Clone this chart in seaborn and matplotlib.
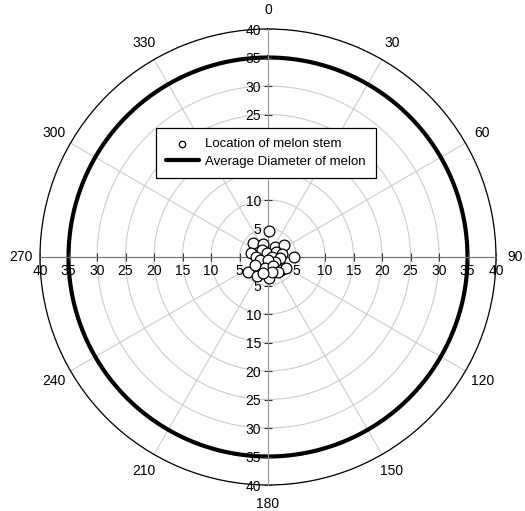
import numpy as np
import matplotlib
matplotlib.use("Agg")
import matplotlib.pyplot as plt
import seaborn as sns

# Stem locations: angle (deg, clockwise from top) and distance from centre
stem_theta = [1.5, 313, 340, 34, 53, 284, 318, 340, 56, 77.5, 90, 272, 85, 96,
              216.5, 123.7, 249, 173.5, 225, 195, 152.6, 135, 122, 233, 209,
              176.4, 145, 166, 196, 238.5]
stem_r = [4.50, 3.52, 2.42, 2.19, 3.59, 3.08, 1.66, 0.68, 1.69, 2.46, 4.62,
          2.11, 0.65, 2.12, 1.38, 1.48, 1.50, 0.53, 2.81, 2.06, 1.78, 3.22,
          3.73, 4.47, 3.82, 3.64, 3.15, 2.65, 2.98, 2.68]
avg_diameter = 35

angle_ticks = [0, 30, 60, 90, 120, 150, 180, 210, 240, 270, 300, 330]
radial_ticks = [5, 10, 15, 20, 25, 30, 35, 40]

sns.set_style("white")
plt.rcParams['font.family'] = ['Liberation Sans', 'DejaVu Sans']
plt.rcParams['text.color'] = 'black'
plt.rcParams['xtick.color'] = 'black'
plt.rcParams['ytick.color'] = 'black'

fig = plt.figure(figsize=(5.25, 5.11), dpi=100)
rect = [40 / 525, 26 / 511, 456 / 525, 456 / 511]

# Polar axes
ax = fig.add_axes(rect, projection='polar')
ax.set_theta_zero_location('N')
ax.set_theta_direction(-1)
ax.set_facecolor('none')
ax.set_ylim(0, 40)
ax.set_yticks(radial_ticks)
ax.set_yticklabels([])
ax.set_xticks(np.deg2rad(angle_ticks))
ax.set_xticklabels([str(a) for a in angle_ticks], fontsize=10)
ax.tick_params(axis='x', pad=4, direction='inout', length=6, width=0.8)
ax.grid(True, color='0.8', linewidth=0.8)
ax.spines['polar'].set_color('black')
ax.spines['polar'].set_linewidth(0.9)

theta_circle = np.deg2rad(np.arange(0, 361))
ax.plot(theta_circle, np.full(theta_circle.shape, avg_diameter), color='black',
        linewidth=3, label='Average Diameter of melon', zorder=4)

# Cartesian overlay for the radial scales on the cross axes
cx = fig.add_axes(rect)
cx.set_facecolor('none')
cx.set_xlim(-40, 40)
cx.set_ylim(-40, 40)
for s in ['top', 'right']:
    cx.spines[s].set_visible(False)
cx.spines['left'].set_position('zero')
cx.spines['bottom'].set_position('zero')
cx.spines['left'].set_color('0.6')
cx.spines['bottom'].set_color('0.45')
cx.spines['left'].set_linewidth(0.8)
cx.spines['bottom'].set_linewidth(0.8)
ticks = [-t for t in radial_ticks[::-1]] + radial_ticks
cx.set_xticks(ticks)
cx.set_yticks(ticks)
cx.set_xticklabels([str(abs(t)) for t in ticks], fontsize=10)
# labels at 15 and 20 on the upper axis sit under the legend box
ylabels = ['' if t in (15, 20) else str(abs(t)) for t in ticks]
cx.set_yticklabels(ylabels, fontsize=10)
cx.tick_params(direction='inout', length=6, width=0.8, color='0.2', pad=2,
               left=True, bottom=True)
cx.grid(False)

# Stem points on top
sx = fig.add_axes(rect, projection='polar')
sx.set_theta_zero_location('N')
sx.set_theta_direction(-1)
sx.set_facecolor('none')
sx.set_ylim(0, 40)
sx.axis('off')
sns.scatterplot(x=np.deg2rad(stem_theta), y=stem_r, ax=sx, s=60,
                facecolor='white', edgecolor='black', linewidth=0.9,
                label='Location of melon stem', legend=False)

handles = sx.collections[:1] + ax.get_lines()[:1]
labels = ['Location of melon stem', 'Average Diameter of melon']
leg = fig.legend(handles, labels, loc='center',
                 bbox_to_anchor=(266 / 525, 1 - 153 / 511),
                 fontsize=9.5, frameon=True, fancybox=False,
                 edgecolor='black', framealpha=1, borderpad=0.75,
                 handlelength=2.5, handletextpad=0.5, markerscale=0.6,
                 labelspacing=0.4)
leg.get_frame().set_linewidth(0.9)

fig.savefig('out.png', dpi=100)
